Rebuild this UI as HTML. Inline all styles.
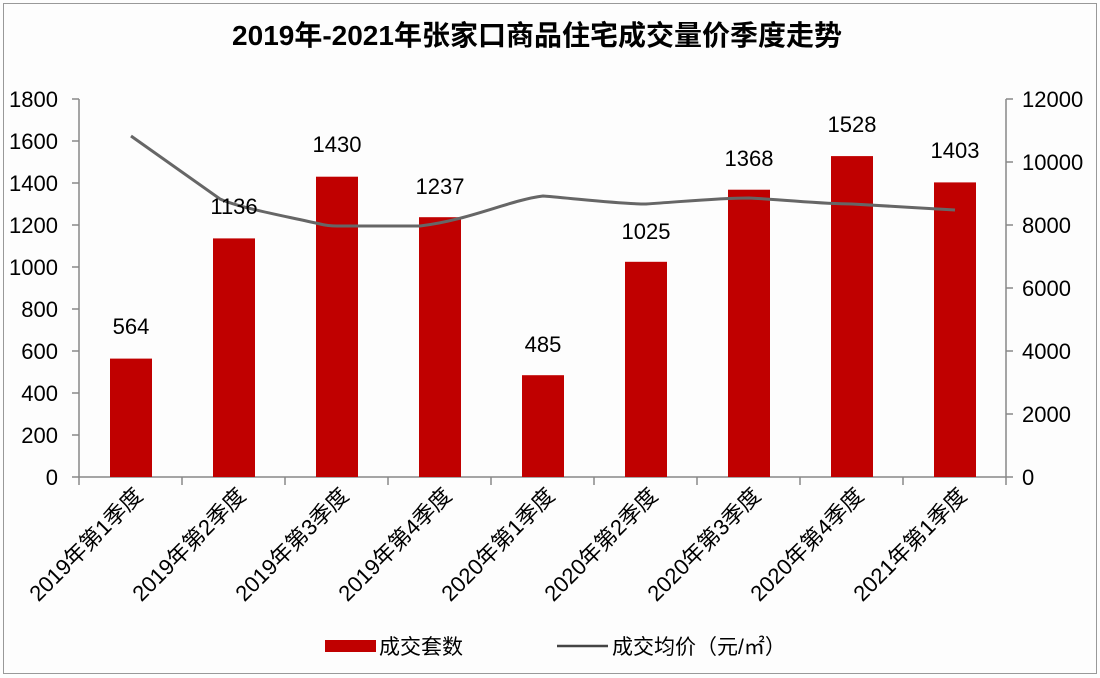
<!DOCTYPE html>
<html><head><meta charset="utf-8"><style>
body{margin:0;background:#fff;}
svg{display:block;font-family:"Liberation Sans","Noto Sans CJK SC",sans-serif;}
</style></head><body>
<svg width="1100" height="678" viewBox="0 0 1100 678">
<rect x="0" y="0" width="1100" height="678" fill="#fdfdfd"/>
<rect x="3.5" y="3.5" width="1093" height="670" fill="none" stroke="#999" stroke-width="1"/>
<text x="537" y="45" font-size="28" font-weight="bold" text-anchor="middle" fill="#000">2019年-2021年张家口商品住宅成交量价季度走势</text>
<g stroke="#888" stroke-width="1.5" fill="none">
<line x1="79" y1="99" x2="79" y2="477"/>
<line x1="1006" y1="99" x2="1006" y2="477"/>
<line x1="72" y1="477" x2="1006" y2="477"/>
</g>
<g stroke="#888" stroke-width="1.5">
<line x1="72" y1="99" x2="79" y2="99"/><line x1="72" y1="141" x2="79" y2="141"/><line x1="72" y1="183" x2="79" y2="183"/><line x1="72" y1="225" x2="79" y2="225"/><line x1="72" y1="267" x2="79" y2="267"/><line x1="72" y1="309" x2="79" y2="309"/><line x1="72" y1="351" x2="79" y2="351"/><line x1="72" y1="393" x2="79" y2="393"/><line x1="72" y1="435" x2="79" y2="435"/>
<line x1="1006" y1="99" x2="1013" y2="99"/><line x1="1006" y1="162" x2="1013" y2="162"/><line x1="1006" y1="225" x2="1013" y2="225"/><line x1="1006" y1="288" x2="1013" y2="288"/><line x1="1006" y1="351" x2="1013" y2="351"/><line x1="1006" y1="414" x2="1013" y2="414"/><line x1="1006" y1="477" x2="1013" y2="477"/>
<line x1="79" y1="477" x2="79" y2="485"/><line x1="182" y1="477" x2="182" y2="485"/><line x1="285" y1="477" x2="285" y2="485"/><line x1="388" y1="477" x2="388" y2="485"/><line x1="491" y1="477" x2="491" y2="485"/><line x1="594" y1="477" x2="594" y2="485"/><line x1="697" y1="477" x2="697" y2="485"/><line x1="800" y1="477" x2="800" y2="485"/><line x1="903" y1="477" x2="903" y2="485"/><line x1="1006" y1="477" x2="1006" y2="485"/>
</g>
<g font-size="22" text-anchor="end" fill="#000">
<text x="58" y="107">1800</text><text x="58" y="149">1600</text><text x="58" y="191">1400</text><text x="58" y="233">1200</text><text x="58" y="275">1000</text><text x="58" y="317">800</text><text x="58" y="359">600</text><text x="58" y="401">400</text><text x="58" y="443">200</text><text x="58" y="485">0</text>
</g>
<g font-size="22" text-anchor="start" fill="#000">
<text x="1022" y="107">12000</text><text x="1022" y="170">10000</text><text x="1022" y="233">8000</text><text x="1022" y="296">6000</text><text x="1022" y="359">4000</text><text x="1022" y="422">2000</text><text x="1022" y="485">0</text>
</g>
<g fill="#c00000">
<rect x="110" y="358.6" width="42" height="118.4"/>
<rect x="213" y="238.4" width="42" height="238.6"/>
<rect x="316" y="176.7" width="42" height="300.3"/>
<rect x="419" y="217.2" width="42" height="259.8"/>
<rect x="522" y="375.2" width="42" height="101.8"/>
<rect x="625" y="261.8" width="42" height="215.2"/>
<rect x="728" y="189.7" width="42" height="287.3"/>
<rect x="831" y="156.1" width="42" height="320.9"/>
<rect x="934" y="182.4" width="42" height="294.6"/>
</g>
<path d="M131,136 L220,199 C240,208 280,215 320,224 C328,226 333,226 337,226 L420,226 C470,220 510,200 543,196 C580,199 620,204 646,204 C690,201 720,198 749,198 C790,200 820,204 852,204 C890,206 920,208 955,210" fill="none" stroke="#666" stroke-width="3"/>
<g font-size="22" text-anchor="middle" fill="#000">
<text x="131" y="334">564</text><text x="234" y="214">1136</text><text x="337" y="152">1430</text><text x="440" y="194">1237</text><text x="543" y="352">485</text><text x="646" y="239">1025</text><text x="749" y="166">1368</text><text x="852" y="132">1528</text><text x="955" y="158">1403</text>
</g>
<g font-size="22" text-anchor="end" fill="#000">
<text transform="translate(144,497) rotate(-45)">2019年第1季度</text>
<text transform="translate(247,497) rotate(-45)">2019年第2季度</text>
<text transform="translate(350,497) rotate(-45)">2019年第3季度</text>
<text transform="translate(453,497) rotate(-45)">2019年第4季度</text>
<text transform="translate(556,497) rotate(-45)">2020年第1季度</text>
<text transform="translate(659,497) rotate(-45)">2020年第2季度</text>
<text transform="translate(762,497) rotate(-45)">2020年第3季度</text>
<text transform="translate(865,497) rotate(-45)">2020年第4季度</text>
<text transform="translate(968,497) rotate(-45)">2021年第1季度</text>
</g>
<rect x="325" y="640" width="51" height="12" fill="#c00000"/>
<text x="379" y="654" font-size="21" fill="#000">成交套数</text>
<line x1="557" y1="646" x2="608" y2="646" stroke="#444" stroke-width="2.5"/>
<text x="612" y="654" font-size="21" fill="#000">成交均价（元/㎡）</text>
</svg>
</body></html>
